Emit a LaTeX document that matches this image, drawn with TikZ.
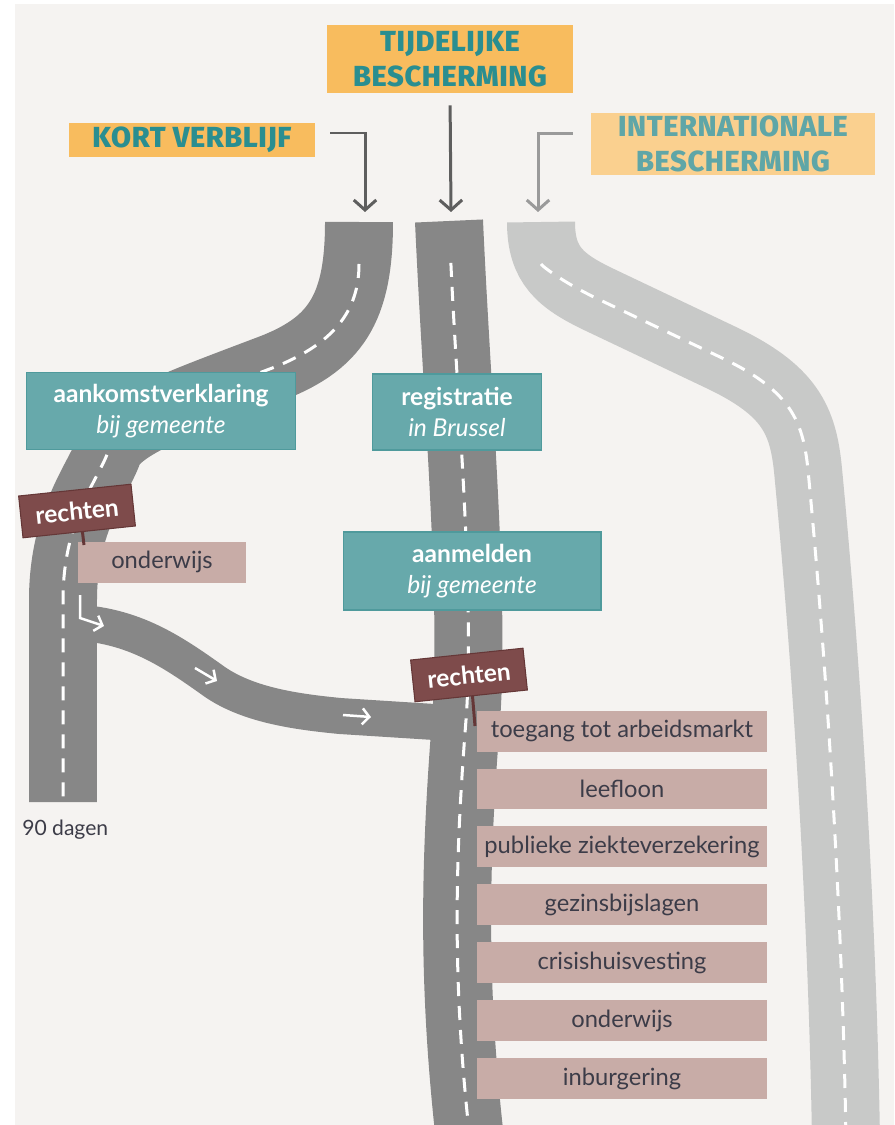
\documentclass[tikz,border=0pt]{standalone}
\usepackage{fontspec}
\setmainfont{Lato}
\newfontfamily\headfont[LetterSpace=2, BoldFont={Fira Sans ExtraBold}]{Fira Sans}
\usetikzlibrary{positioning, arrows.meta}

\definecolor{paper}{HTML}{F5F3F1}
\definecolor{sunny}{HTML}{F8BC5E}
\definecolor{sunnylight}{HTML}{FAD08F}
\definecolor{headteal}{HTML}{2A8E90}
\definecolor{headpale}{HTML}{5FA6A7}
\definecolor{roadgrey}{HTML}{878787}
\definecolor{roadpale}{HTML}{C8C9C8}
\definecolor{arrowgrey}{HTML}{5E5E5E}
\definecolor{arrowpale}{HTML}{9A9A9A}
\definecolor{tealbox}{HTML}{67A9AB}
\definecolor{tealedge}{HTML}{4F9A9C}
\definecolor{signred}{HTML}{7E4B4B}
\definecolor{signedge}{HTML}{653737}
\definecolor{rosebox}{HTML}{C8ACA7}
\definecolor{darktext}{HTML}{3C3C48}

\begin{document}
\begin{tikzpicture} [x=0.02cm, y=-0.02cm,
            node distance = 1.16cm,
            on grid,
            header/.style = {fill=sunny, text=headteal, inner sep=0pt, align=center,
                font=\headfont\bfseries\fontsize{16.5}{20}\selectfont},
            stepbox/.style = {fill=tealbox, draw=tealedge, line width=0.6pt,
                text=white, inner sep=0pt, align=center,
                font=\fontsize{14}{17.5}\selectfont},
            rechtbox/.style = {fill=rosebox, text=darktext, inner sep=0pt,
                minimum width=5.82cm, minimum height=0.82cm,
                font=\fontsize{13.5}{16}\selectfont},
            signboard/.style = {fill=signred, draw=signedge, line width=0.6pt,
                text=white, inner sep=0pt, rotate=6,
                minimum width=2.26cm, minimum height=0.84cm,
                font=\bfseries\fontsize{14}{16}\selectfont},
            post/.style = {draw=signedge, line width=0.06cm},
            road/.style = {draw=roadgrey, line width=1.36cm},
            lane/.style = {draw=white, line width=0.06cm,
                dash pattern=on 0.28cm off 0.2cm, shorten <=0.84cm},
            inarrow/.style = {draw=arrowgrey, line width=0.06cm,
                -{Straight Barb[length=0.2cm, width=0.45cm]}},
            turn/.style = {draw=white, line width=0.05cm,
                -{Straight Barb[length=0.14cm, width=0.32cm]}}]

            \useasboundingbox (0,0) rectangle (894,1125);
            \fill[white] (0,0) rectangle (894,1125);
            \fill[paper] (15,4) rectangle (894,1125);

            % Headers
            \node (tijd) [header, minimum width=4.92cm, minimum height=1.36cm]
                at (450,59) {TIJDELIJKE\\BESCHERMING};
            \node (kort) [header, minimum width=4.92cm, minimum height=0.7cm]
                at (192,140) {KORT VERBLIJF};
            \node (intl) [header, fill=sunnylight, text=headpale,
                minimum width=5.68cm, minimum height=1.26cm]
                at (733,144) {INTERNATIONALE\\BESCHERMING};

            % Road entries
            \coordinate (kortIn) at (365,212);
            \coordinate (tijdIn) at (451,212);
            \coordinate (intlIn) at (538,212);

            % Arrows
            \draw [inarrow] ([xshift=0.3cm, yshift=0.14cm]kort.east) -| (kortIn);
            \draw [inarrow, shorten <=0.24cm] (tijd.south) -- (tijdIn);
            \draw [inarrow, draw=arrowpale] ([xshift=-0.36cm, yshift=0.22cm]intl.west) -| (intlIn);

            % Roads
            \path [road, draw=roadpale] (541,222) .. controls (541,265) and (560,281) .. (600,300)
                -- (720,357) .. controls (790,390) and (803,420) .. (808,470)
                .. controls (830,700) and (843,950) .. (846,1140);
            \path [road] (359,222) .. controls (359,310) and (335,345) .. (267,370)
                .. controls (180,403) and (118,425) .. (108,452)
                .. controls (98,480) and (63,520) .. (63,600) -- (63,802);
            \path [road, line width=0.72cm] (62,622) .. controls (130,622) and (170,650) .. (215,682)
                .. controls (250,706) and (300,712) .. (340,716) -- (466,724);
            \path [road] (449,221) .. controls (457,400) and (475,600) .. (466,720)
                .. controls (455,860) and (452,980) .. (470,1140);

            % Lanes
            \path [lane] (541,222) .. controls (541,265) and (560,281) .. (600,300)
                -- (720,357) .. controls (790,390) and (803,420) .. (808,470)
                .. controls (830,700) and (843,950) .. (846,1140);
            \path [lane] (359,222) .. controls (359,310) and (335,345) .. (267,370)
                .. controls (180,403) and (118,425) .. (108,452)
                .. controls (98,480) and (63,520) .. (63,600) -- (63,802);
            \path [lane] (449,221) .. controls (457,400) and (475,600) .. (466,720)
                .. controls (455,860) and (452,980) .. (470,1140);

            % Turn marks
            \draw [turn] (80,595) -- (80,618) -- (104,626);
            \draw [turn] (195,668) -- (217,681);
            \draw [turn] (343,715) -- (371,717);

            % Steps
            \node (aankomst) [stepbox, minimum width=5.38cm, minimum height=1.54cm]
                at (161,411) {\textbf{aankomstverklaring}\\\textit{bij gemeente}};
            \node (registratie) [stepbox, minimum width=3.38cm, minimum height=1.52cm]
                at (457,412) {\textbf{registratie}\\\textit{in Brussel}};
            \node (aanmelden) [stepbox, minimum width=5.16cm, minimum height=1.56cm]
                at (472,571) {\textbf{aanmelden}\\\textit{bij gemeente}};

            % Rights, short stay
            \node (onderwijsL) [rechtbox, minimum width=3.38cm] at (162,562) {onderwijs};
            \coordinate (postL) at (84,545);
            \draw [post] (82,528) -- (postL);
            \node (rechtenL) [signboard] at (77,511) {rechten};

            % Rights, temporary protection
            \node (toegang) [rechtbox] at (622,731) {toegang tot arbeidsmarkt};
            \node (leefloon) [rechtbox, below = of toegang] {leefloon};
            \node (ziekte) [rechtbox, below = of leefloon] {publieke ziekteverzekering};
            \node (gezin) [rechtbox, below = of ziekte] {gezinsbijslagen};
            \node (crisis) [rechtbox, below = of gezin] {crisishuisvesting};
            \node (onderwijsM) [rechtbox, below = of crisis] {onderwijs};
            \node (inburgering) [rechtbox, below = of onderwijsM] {inburgering};
            \coordinate (postM) at (475,726);
            \draw [post] (472,690) -- (postM);
            \node (rechtenM) [signboard] at (469,675) {rechten};

            \node (dagen) [anchor=west, text=darktext, inner sep=0pt,
                font=\fontsize{12}{14}\selectfont] at (22,830) {90 dagen};
        \end{tikzpicture}
\end{document}
